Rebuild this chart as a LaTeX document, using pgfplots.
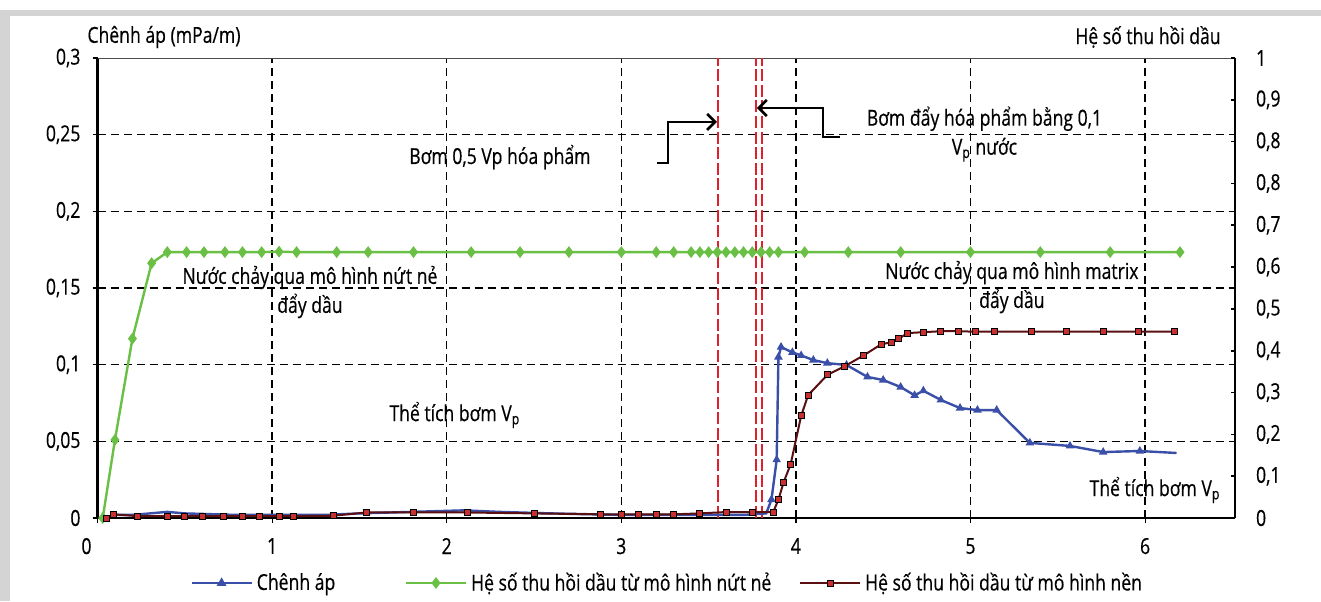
\documentclass[border=0pt]{standalone}
\usepackage{fontspec}
\setmainfont{Open Sans}[FakeStretch=0.8, FakeBold=0.4]
\usepackage{pgfplots}
\pgfplotsset{compat=1.18}
\usetikzlibrary{arrows.meta}
\definecolor{cblue}{HTML}{3A4FA8}
\definecolor{cgreen}{HTML}{6ABF45}
\definecolor{cbrown}{HTML}{5A1010}
\definecolor{cbrownfill}{HTML}{C83030}
\definecolor{cred}{HTML}{E0202A}
\definecolor{cframe}{HTML}{D4D4D4}
\tikzset{gridsty/.style={black, line width=0.7pt, dash pattern=on 4pt off 2.5pt}}
\pgfplotsset{
  every tick label/.append style={font=\fontsize{11}{13}\selectfont},
  common/.style={
    width=568.75pt, height=230pt, scale only axis,
    xmin=0, xmax=6.515,
  },
}
\begin{document}
\begin{tikzpicture}[x=1pt,y=1pt]
\fill[white] (-48.75,-41.5) rectangle (611.75,259);
\fill[cframe] (-48.75,251) rectangle (611.75,254);
\fill[cframe] (-48.75,-41.5) rectangle (-43.75,254);
\begin{axis}[
  common,
  ymin=0, ymax=0.3,
  axis x line*=bottom, axis y line*=left,
  axis line style={black, line width=1.2pt, -},
  xtick={0,1,2,3,4,5,6}, xticklabels={\makebox[0pt][r]{0\kern3pt},1,2,3,4,5,6},
  ytick={0,0.05,0.1,0.15,0.2,0.25,0.3},
  yticklabels={0,{0,05},{0,1},{0,15},{0,2},{0,25},{0,3}},
  xticklabel style={yshift=-4pt},
  yticklabel style={xshift=-2.5pt},
  tick align=outside, major tick length=2.5pt,
  tick style={black, line width=0.6pt},
  extra x ticks={1,2,3,4,5,6}, extra x tick labels={},
  extra x tick style={xmajorgrids=true, major grid style={gridsty}, major tick length=0pt},
  extra y ticks={0.05,0.1,0.15,0.2,0.25}, extra y tick labels={},
  extra y tick style={ymajorgrids=true, major grid style={gridsty}, major tick length=0pt},
  clip=false,
]
\draw[black!70, line width=0.5pt] (rel axis cs:0,1) -- (rel axis cs:1,1);
% red dashed markers
\addplot[cred, line width=1.4pt, dash pattern=on 6pt off 1.8pt] coordinates {(3.554,0) (3.554,0.3)};
\addplot[cred, line width=1.4pt, dash pattern=on 6pt off 1.8pt] coordinates {(3.771,0) (3.771,0.3)};
\addplot[cred, line width=1.4pt, dash pattern=on 6pt off 1.8pt] coordinates {(3.806,0) (3.806,0.3)};
% pressure drop
\addplot[cblue, line width=1.2pt, mark=triangle*, mark size=1.3pt,
  mark indices={18,19,20,21,22,23,24,25,26,27,28,29,30,31,32,33,34,35,36,37,38,39}] coordinates {
(0.04,0.000)(0.1,0.002)(0.2,0.002)(0.4,0.004)(0.5,0.003)(0.8,0.002)(1.0,0.002)(1.3,0.002)
(1.5,0.003)(1.8,0.004)(2.1,0.005)(2.3,0.004)(2.6,0.003)(3.0,0.002)(3.4,0.002)(3.7,0.002)
(3.83,0.003)(3.86,0.012)(3.89,0.038)(3.90,0.105)(3.915,0.1115)(3.98,0.108)(4.03,0.106)
(4.10,0.103)(4.18,0.101)(4.29,0.0998)(4.41,0.092)(4.50,0.090)(4.60,0.0854)(4.68,0.080)
(4.73,0.083)(4.83,0.077)(4.94,0.0717)(5.04,0.0704)(5.15,0.0704)(5.34,0.049)(5.57,0.047)
(5.76,0.043)(5.97,0.0437)(6.18,0.0424)};
% arrows
\draw[black, line width=1.3pt, -{Straight Barb[length=4pt,width=8pt]}]
  (axis cs:3.205,0.2315) -- (axis cs:3.267,0.2315) -- (axis cs:3.267,0.2583) -- (axis cs:3.548,0.2583);
\draw[black, line width=1.3pt, -{Straight Barb[length=4pt,width=8pt]}]
  (axis cs:4.252,0.2485) -- (axis cs:4.155,0.2485) -- (axis cs:4.155,0.2674) -- (axis cs:3.777,0.2674);
% annotations
\tikzset{ann/.style={font=\fontsize{11}{14.5}\selectfont, align=center, inner sep=0pt}}
\node[ann] at (axis cs:2.305,0.2354) {Bơm 0,5 Vp hóa phẩm};
\node[ann] at (axis cs:5.08,0.2504) {Bơm đẩy hóa phẩm bằng 0,1\\V\textsubscript{p} nước};
\node[ann] at (axis cs:1.217,0.1474) {Nước chảy qua mô hình nứt nẻ\\đẩy dầu};
\node[ann] at (axis cs:5.237,0.1506) {Nước chảy qua mô hình matrix\\đẩy dầu};
\node[ann] at (axis cs:2.047,0.0672) {Thể tích bơm V\textsubscript{p}};
\node[ann] at (axis cs:6.057,0.0183) {Thể tích bơm V\textsubscript{p}};
\end{axis}
\begin{axis}[
  common,
  ymin=0, ymax=1,
  axis x line=none, axis y line*=right,
  axis line style={black, line width=0.6pt, -},
  ytick={0,0.090909,0.181818,0.272727,0.363636,0.454545,0.545454,0.636363,0.727272,0.818181,0.909090,1},
  yticklabels={0,{0,1},{0,2},{0,3},{0,4},{0,5},{0,6},{0,7},{0,8},{0,8},{0,9},1},
  yticklabel style={xshift=7pt},
  tick align=inside, major tick length=2pt,
  tick style={black, line width=0.8pt},
  legend columns=3,
  legend cell align=left,
  legend style={at={(0.0813,-0.1413)}, anchor=west, draw=none, fill=none, inner sep=0pt,
    font=\fontsize{11}{13}\selectfont,
    /tikz/every even column/.append style={column sep=0pt}},
  legend image code/.code={\draw[mark repeat=2,mark phase=2] plot coordinates {(0pt,0pt)(15pt,0pt)(30pt,0pt)};},
]
\addlegendimage{cblue, line width=1.2pt, mark=triangle*, mark size=1.6pt}
\addlegendentry{\makebox[72pt][l]{Chênh áp}}
\addplot[cgreen, line width=1.2pt, mark=diamond*, mark size=2pt] coordinates {
(0.03,0)(0.10,0.17)(0.20,0.39)(0.31,0.554)(0.40,0.578)(0.51,0.578)(0.61,0.578)(0.73,0.578)
(0.83,0.578)(0.94,0.578)(1.04,0.579)(1.14,0.578)(1.37,0.578)(1.55,0.578)(1.81,0.578)
(2.14,0.578)(2.42,0.578)(2.7,0.578)(3.0,0.578)(3.2,0.578)(3.3,0.578)(3.4,0.578)(3.45,0.578)
(3.5,0.578)(3.55,0.578)(3.6,0.578)(3.65,0.578)(3.7,0.578)(3.75,0.578)(3.8,0.578)(3.85,0.578)
(3.9,0.578)(4.05,0.578)(4.3,0.578)(4.6,0.578)(5.0,0.578)(5.4,0.578)(5.8,0.578)(6.2,0.578)};
\addlegendentry{\makebox[162pt][l]{Hệ số thu hồi dầu từ mô hình nứt nẻ}}
\addplot[cbrown, line width=1pt, mark=square*, mark size=1.5pt,
  mark options={fill=cbrownfill, draw=black, line width=0.5pt}] coordinates {
(0.05,0.0)(0.09,0.008)(0.23,0.004)(0.40,0.004)(0.50,0.004)(0.60,0.004)(0.72,0.004)(0.83,0.004)
(0.93,0.004)(1.04,0.004)(1.12,0.004)(1.35,0.005)(1.54,0.012)(1.81,0.012)(2.12,0.012)(2.5,0.010)
(2.88,0.008)(3.0,0.008)(3.1,0.008)(3.2,0.008)(3.3,0.008)(3.45,0.010)(3.6,0.013)(3.75,0.013)
(3.87,0.013)(3.90,0.04)(3.93,0.078)(3.97,0.117)(4.03,0.222)(4.07,0.267)(4.18,0.311)(4.28,0.330)
(4.39,0.354)(4.49,0.378)(4.55,0.382)(4.59,0.39)(4.64,0.402)(4.73,0.404)(4.83,0.406)(4.93,0.406)
(5.03,0.405)(5.14,0.405)(5.35,0.405)(5.55,0.405)(5.76,0.405)(5.96,0.405)(6.17,0.405)};
\addlegendentry{Hệ số thu hồi dầu từ mô hình nền}
\end{axis}
\node[font=\fontsize{11}{13}\selectfont, inner sep=0pt] at (33.25,240.5) {Chênh áp (mPa/m)};
\node[font=\fontsize{11}{13}\selectfont, inner sep=0pt] at (525.25,240.5) {Hệ số thu hồi dầu};
\end{tikzpicture}
\end{document}
